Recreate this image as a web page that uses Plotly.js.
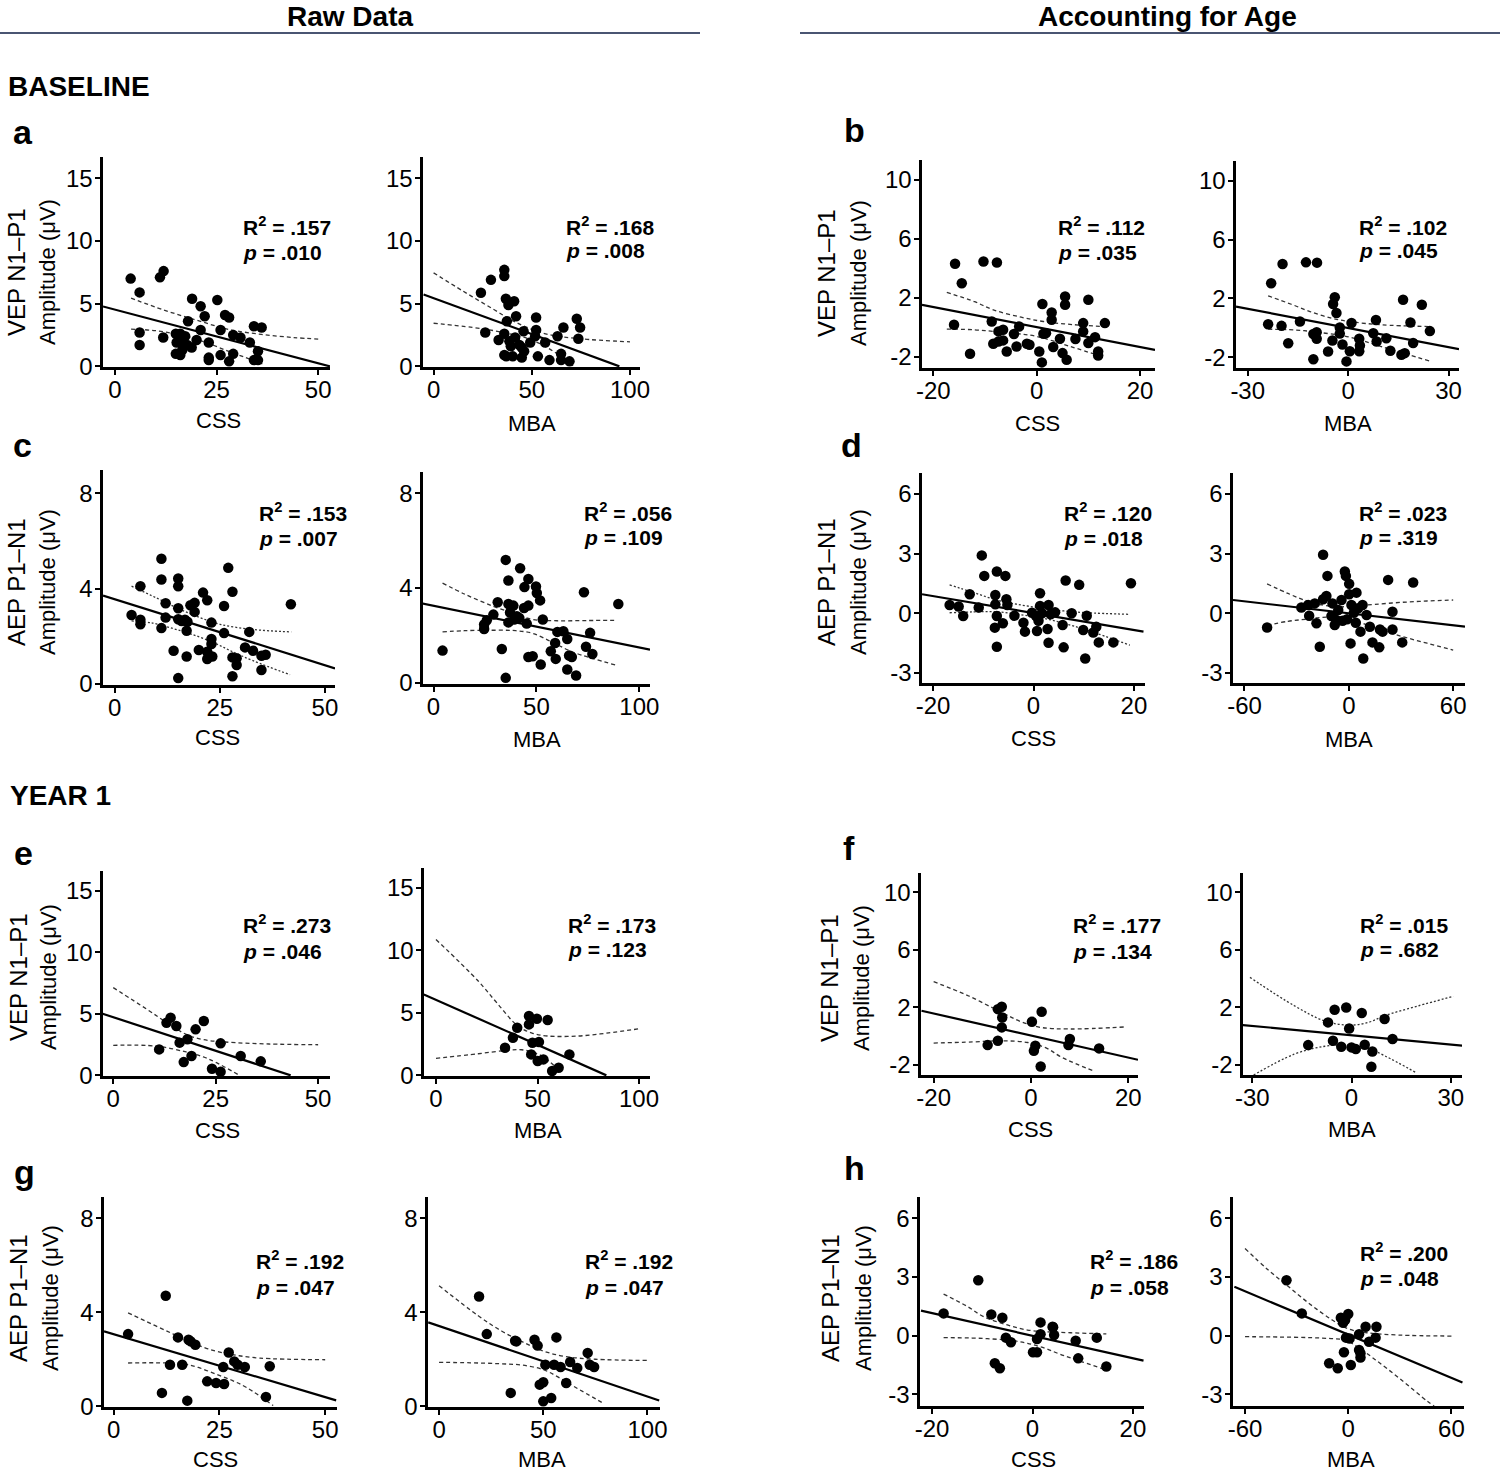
<!DOCTYPE html>
<html><head><meta charset="utf-8">
<script src="https://cdn.plot.ly/plotly-3.0.1.min.js"></script>
<style>body{margin:0;background:#fff}#chart{width:1500px;height:1472px}</style>
</head><body><div id="chart"></div>
<script>
// ---------- tick labels ----------
const cssRawTicks=[0,25,50], mbaRawTicks=[0,50,100], vepRawTicks=[0,5,10,15], aepRawTicks=[0,4,8];
const cssAdjTicks=[-20,0,20], mbaAdjVepTicks=[-30,0,30], mbaAdjAepTicks=[-60,0,60];
const vepAdjTicks=[-2,2,6,10], aepAdjTicks=[-3,0,3,6];

// ---------- statistics ----------
const r2Labels=['.157','.168','.112','.102','.153','.056','.120','.023','.273','.173','.177','.015','.192','.192','.186','.200'];
const pLabels =['.010','.008','.035','.045','.007','.109','.018','.319','.046','.123','.134','.682','.047','.047','.058','.048'];

// ---------- a: baseline VEP raw ----------
const aCssX=[3.9,6.1,6.1,6.1,11.1,12.0,11.9,15.0,16.1,17.3,15.2,16.6,17.8,16.6,15.0,16.1,20.1,18.9,18.0,19.0,21.1,21.1,22.1,23.1,23.1,23.1,25.2,26.0,26.0,27.1,28.1,28.1,29.1,29.1,30.9,33.2,34.2,36.1,35.2,34.2,35.2];
const aCssY=[7.0,5.9,2.7,1.7,7.1,7.6,2.3,2.6,2.6,2.4,1.9,1.9,1.7,1.3,1.0,0.9,2.1,1.5,3.6,5.4,4.8,2.9,4.0,1.9,0.7,0.5,5.3,2.9,0.9,4.1,3.9,0.4,1.0,2.5,2.3,1.9,3.2,3.1,1.2,0.5,0.5];
const aCssFitX=[-2.9,52.9], aCssFitY=[4.78,0.0];
const aCssUpX=[4,12,20,28,36,44,50], aCssUpY=[5.44,4.5,3.7,2.95,2.55,2.3,2.18];
const aCssLoX=[4,10,16,22,28,33,37], aCssLoY=[2.97,2.85,2.5,1.95,1.2,0.6,0.1];

const aMbaX=[24.1,26.3,29.2,33.1,36.0,36.0,36.8,37.3,36.0,36.0,37.0,38.1,38.6,39.3,41.0,42.0,41.5,43.7,44.9,45.8,40.3,46.1,44.9,49.2,52.2,52.2,53.1,56.8,59.0,63.1,64.9,64.9,66.1,69.2,72.9,74.6,73.7,51.7];
const aMbaY=[5.87,2.7,6.9,2.1,7.7,7.2,5.4,3.6,2.6,0.9,0.8,4.9,2.0,1.6,5.2,4.0,2.3,1.7,1.5,2.8,0.8,1.2,0.7,1.9,3.9,2.9,0.8,1.9,0.5,2.4,1.0,0.5,3.1,0.4,3.8,3.1,2.2,2.4];
const aMbaFitX=[-5.1,94.6], aMbaFitY=[5.74,0.0];
const aMbaUpX=[0,15,30,42,57,75,100], aMbaUpY=[7.46,6.0,4.6,3.5,2.6,2.2,1.96];
const aMbaLoX=[0,20,34,50,64,71], aMbaLoY=[3.44,3.1,2.75,2.1,0.9,0.05];

// ---------- b: baseline VEP age-adjusted ----------
const bCssX=[-15.8,-14.5,-10.3,-7.7,-16.0,-12.9,-8.7,-8.4,-7.4,-7.4,-6.5,-6.5,-5.8,-4.4,-3.9,-3.4,-1.9,-1.4,0.5,1.0,1.1,1.3,1.8,2.9,2.9,3.2,4.5,5.0,5.5,5.5,5.8,7.5,9.0,9.0,10.0,10.0,11.3,11.9,11.9,13.2];
const bCssY=[4.32,3.0,4.47,4.41,0.19,-1.78,0.41,-1.1,-0.26,-0.94,-0.15,-0.87,-1.62,-0.44,-1.28,0.07,-1.1,-1.17,-1.62,-2.36,1.6,-0.42,-0.38,1.02,0.53,-1.32,-0.76,-1.73,2.1,1.54,-2.18,-0.78,0.3,-0.26,1.88,-1.05,-0.65,-1.62,-1.89,0.3];
const bCssFitX=[-22.2,22.9], bCssFitY=[1.54,-1.52];
const bCssUpX=[-17.4,-12,-8.4,-3,1.3,7,12.9], bCssUpY=[2.38,1.75,1.2,0.7,0.41,0.2,0.07];
const bCssLoX=[-17.4,-12,-8.4,-4,0,6.5,12.9], bCssLoY=[-0.1,-0.15,-0.26,-0.4,-0.6,-1.28,-2.0];

const bMbaX=[-23.0,-19.6,-12.6,-9.3,-23.9,-19.9,-17.9,-14.4,-10.4,-9.4,-9.4,-10.4,-6.0,-4.0,-4.5,-3.5,-4.7,-2.5,-2.5,-1.7,-0.5,0.5,1.0,3.3,3.5,3.3,7.5,8.3,8.5,11.4,12.6,15.9,16.9,16.4,18.6,19.4,22.0,24.4];
const bMbaY=[3.03,4.34,4.45,4.43,0.24,0.13,-1.05,0.42,-0.42,-0.30,-0.75,-2.14,-1.62,2.08,1.62,1.0,-0.87,0.02,-0.4,-1.14,-2.29,-1.6,0.32,-0.75,-1.2,-1.6,-0.37,0.53,-0.94,-0.71,-1.57,-1.84,-1.73,1.9,0.36,-1.04,1.56,-0.23];
const bMbaFitX=[-33.5,33.1], bMbaFitY=[1.44,-1.46];
const bMbaUpX=[-23.9,-17,-11.4,-5,0.5,10,24.4], bMbaUpY=[2.17,1.6,1.1,0.65,0.42,0.2,0.08];
const bMbaLoX=[-23.9,-16,-9.4,0.5,10.4,24.4], bMbaLoY=[-0.1,-0.15,-0.3,-0.64,-1.32,-2.27];

// ---------- c: baseline AEP raw ----------
const cCssX=[4.0,6.1,6.1,6.1,11.1,11.1,11.1,12.1,12.1,14.0,15.1,15.1,15.1,15.1,15.1,15.9,16.7,17.1,17.1,17.3,18.0,19.0,19.0,20.0,21.0,22.0,22.0,22.0,23.0,23.0,23.0,23.2,26.0,26.0,27.0,28.0,28.0,28.0,29.0,29.0,31.0,32.0,32.9,34.9,35.9,34.9,41.9];
const cCssY=[2.89,4.10,2.69,2.50,5.25,4.38,2.34,3.38,2.78,1.39,4.42,4.10,3.17,2.71,0.24,2.64,2.69,1.15,2.23,2.61,3.30,3.40,3.02,1.42,3.83,3.51,1.35,1.04,2.57,1.88,1.67,1.15,3.27,2.13,4.87,3.87,1.11,0.32,1.07,0.79,1.53,2.18,1.39,1.18,1.22,0.58,3.34];
const cCssFitX=[-2.8,52.4], cCssFitY=[3.71,0.65];
const cCssUpX=[4,10,15.5,20,25,33,42], cCssUpY=[4.1,3.6,3.13,2.8,2.5,2.28,2.18];
const cCssLoX=[4,9,13.9,18,23.4,28,32.9,41.7], cCssLoY=[2.64,2.55,2.32,2.1,1.74,1.35,0.97,0.38];

const cMbaX=[4.4,24.6,24.6,25.9,29.1,31.2,33.2,35.1,35.1,36.4,36.4,36.4,37.2,38.8,39.2,40.5,42.1,41.7,44.2,44.0,45.3,46.1,46.1,46.1,48.2,49.8,50.2,51.8,52.1,53.1,57.0,59.1,59.4,60.2,63.1,65.0,65.0,65.9,67.2,69.3,73.1,74.1,76.1,77.2,89.8];
const cMbaY=[1.36,2.27,2.46,2.64,2.88,3.40,1.43,5.19,0.21,4.32,3.33,2.55,2.97,3.26,2.67,2.81,4.84,2.74,4.04,3.16,2.50,4.38,3.26,1.09,1.12,4.07,3.79,3.48,0.77,2.67,1.33,1.68,1.01,2.15,2.18,1.85,0.56,1.15,1.09,0.31,3.82,1.52,2.11,1.22,3.33];
const cMbaFitX=[-5.2,105.2], cMbaFitY=[3.34,1.40];
const cMbaUpX=[4.4,15,29.1,40,48.5,60,75,89], cMbaUpY=[4.21,3.75,3.23,2.9,2.67,2.62,2.63,2.64];
const cMbaLoX=[4.4,15,29.1,40,48.5,58,68,89], cMbaLoY=[2.15,2.2,2.22,2.2,2.08,1.7,1.29,0.74];

// ---------- d: baseline AEP age-adjusted ----------
const dCssX=[-16.7,-14.9,-14.0,-12.7,-10.9,-10.3,-9.8,-7.6,-7.6,-7.3,-7.3,-7.7,-7.3,-6.1,-5.6,-5.4,-5.2,-3.8,-2.0,-1.7,-0.3,0.5,1.0,0.7,1.3,1.3,1.7,2.8,3.0,3.0,3.4,4.3,5.8,6.0,6.4,7.6,9.1,9.9,10.6,10.3,11.9,12.5,13.0,15.9,19.4];
const dCssY=[0.42,0.34,-0.13,0.96,0.29,2.91,1.88,0.92,0.45,2.10,-0.13,-0.72,-1.68,-0.50,1.88,0.71,0.42,-0.12,-0.47,-0.92,0.03,-0.13,-0.37,-0.89,1.01,0.37,0.0,-0.79,0.42,-1.48,-0.05,0.05,-0.59,-1.71,1.65,0.0,1.43,-0.84,-0.12,-2.27,-0.96,-0.67,-1.46,-1.46,1.51];
const dCssFitX=[-22.2,21.9], dCssFitY=[0.96,-0.92];
const dCssUpX=[-16.7,-12,-7.3,-2.5,2,6,10.6,19.2], dCssUpY=[1.43,1.05,0.67,0.42,0.25,0.12,0.03,-0.05];
const dCssLoX=[-16.7,-12,-7.3,-2.5,2,6,10.6,19.2], dCssLoY=[0.03,0.07,0.08,-0.07,-0.25,-0.5,-0.84,-1.6];

const dMbaX=[-47.0,-27.3,-23.4,-22.8,-19.6,-18.6,-16.7,-14.8,-14.8,-12.9,-12.3,-10.0,-9.4,-8.1,-7.1,-6.1,-4.2,-3.6,-2.3,-1.7,-1.0,0.2,0.2,1.0,1.5,2.9,4.0,4.4,5.4,6.7,7.9,8.3,10.2,12.1,13.6,17.5,17.9,19.4,22.6,25.1,25.1,30.7,37.0];
const dMbaY=[-0.71,0.29,0.42,-0.12,0.50,-0.50,-1.68,2.94,0.71,0.87,1.88,-0.13,0.50,-0.59,-0.34,0.17,0.67,-0.37,2.10,1.88,-0.30,1.48,0.96,-1.51,0.42,0.03,-0.47,1.04,0.25,-0.92,0.42,-2.27,-0.08,-0.67,-1.46,-1.71,-0.81,-0.92,1.68,0.08,-0.81,-1.46,1.55];
const dMbaFitX=[-66.6,66.8], dMbaFitY=[0.67,-0.67];
const dMbaUpX=[-47,-35,-25,-15,-5,5,15,30,45,60], dMbaUpY=[1.48,1.0,0.65,0.42,0.33,0.38,0.45,0.55,0.62,0.67];
const dMbaLoX=[-47,-35,-25,-15,-5,5,15,30,45,60], dMbaLoY=[-0.6,-0.4,-0.3,-0.2,-0.2,-0.4,-0.75,-1.15,-1.5,-1.85];

// ---------- e: year 1 VEP raw ----------
const eCssX=[11.2,13.0,14.0,15.4,16.2,17.2,18.1,19.1,20.1,22.1,24.1,26.2,26.2,31.1,36.0];
const eCssY=[2.11,4.28,4.69,4.01,2.66,1.08,2.93,1.57,3.74,4.42,0.54,2.60,0.30,1.57,1.14];
const eCssFitX=[-2.6,43.3], eCssFitY=[5.01,0.0];
const eCssUpX=[0,8.2,13,17.8,22,27.3,38,50], eCssUpY=[7.13,5.37,4.3,3.33,2.9,2.71,2.55,2.49];
const eCssLoX=[0,10.4,17.8,22,25.2,30.4], eCssLoY=[2.44,2.38,1.9,1.5,1.03,0.08];

const eMbaX=[34.0,37.9,40.0,45.8,45.8,47.5,46.9,49.7,50.7,50.1,52.9,55.0,57.2,60.4,65.7];
const eMbaY=[2.21,3.01,3.81,4.75,4.08,2.61,1.68,4.53,2.67,1.15,1.28,4.43,0.35,0.61,1.68];
const eMbaFitX=[-6,83.9], eMbaFitY=[6.48,0.0];
const eMbaUpX=[0,20.8,30,40,47,55,70,85,100], eMbaUpY=[10.88,7.55,5.8,4.0,3.4,3.15,3.15,3.4,3.73];
const eMbaLoX=[0,20.8,35,42.2,50.7,56,61.5], eMbaLoY=[1.36,1.73,2.0,2.05,1.68,1.1,0.21];

// ---------- f: year 1 VEP age-adjusted ----------
const fCssX=[-8.9,-6.8,-6.8,-6.0,-5.9,-6.0,0.2,2.2,0.9,0.6,2.0,8.0,7.7,14.0];
const fCssY=[-0.62,-0.32,1.88,2.05,1.30,0.61,1.0,1.70,-0.67,-1.02,-2.11,-0.20,-0.62,-0.85];
const fCssFitX=[-22.5,22.0], fCssFitY=[1.77,-1.64];
const fCssUpX=[-20,-12.9,-6,-2,2,8,19.7], fCssUpY=[3.79,2.81,1.65,1.0,0.61,0.5,0.65];
const fCssLoX=[-20,-12,-6,-0.7,3,6.4,13.1], fCssLoY=[-0.48,-0.4,-0.32,-0.44,-0.8,-1.48,-2.45];

const fMbaX=[-13.1,-7.1,-5.1,-1.6,-5.6,-3.1,-0.7,0,1.3,3.1,4.0,6.3,6.0,10.0,12.4];
const fMbaY=[-0.62,0.96,1.84,2.0,-0.32,-0.74,0.54,-0.78,-0.9,1.61,-0.60,-1.06,-2.13,1.19,-0.20];
const fMbaFitX=[-33.5,34.1], fMbaFitY=[0.79,-0.67];
const fMbaUpX=[-30.7,-17.3,-8,-0.7,5,10,20,30.8], fMbaUpY=[4.09,2.12,1.05,0.77,0.95,1.42,2.1,2.77];
const fMbaLoX=[-30.7,-17.3,-8,-0.7,5,10,19.4], fMbaLoY=[-2.85,-1.25,-0.7,-0.62,-0.85,-1.36,-2.52];

// ---------- g: year 1 AEP raw ----------
const gCssX=[3.4,11.4,12.3,13.3,15.2,16.2,17.4,17.7,18.2,19.3,22.1,24.2,26.1,25.9,27.2,28.5,29.3,31.0,36.0,36.9];
const gCssY=[3.07,0.57,4.70,1.77,2.93,1.77,0.24,2.83,2.76,2.62,1.06,0.99,0.95,1.67,2.29,1.91,1.77,1.67,0.40,1.70];
const gCssFitX=[-2.3,52.6], gCssFitY=[3.19,0.25];
const gCssUpX=[3.4,9,14.1,18,22.3,28,34.6,50], gCssUpY=[3.97,3.5,3.07,2.75,2.44,2.2,2.05,1.98];
const gCssLoX=[3.4,10,16.2,20,24.4,28,31.6,37.7], gCssLoY=[1.84,1.85,1.81,1.65,1.35,1.1,0.78,0.03];

const gMbaX=[19.2,22.9,34.4,36.5,37.1,45.8,47.3,48.3,50.0,50.0,51.0,53.8,55.2,56.3,58.3,61.0,62.9,66.3,71.3,72.3,74.4];
const gMbaY=[4.67,3.07,0.57,2.79,2.76,2.83,2.58,0.92,1.02,0.21,1.77,0.35,1.77,2.93,1.67,0.99,1.88,1.63,2.27,1.77,1.67];
const gMbaFitX=[-5.2,105.6], gMbaFitY=[3.57,0.25];
const gMbaUpX=[0,18.8,30,39.6,50,60.4,75,100], gMbaUpY=[5.13,3.85,3.2,2.76,2.35,2.12,2.0,1.95];
const gMbaLoX=[0,15,29.2,40,50,57,64.6,79.2], gMbaLoY=[1.87,1.85,1.81,1.75,1.56,1.25,0.85,0.11];

// ---------- h: year 1 AEP age-adjusted ----------
const hCssX=[-17.7,-10.8,-8.2,-6.0,-7.5,-6.5,-5.3,-4.3,0.1,0.9,0.9,1.6,1.6,4.0,4.3,4.1,8.6,9.1,12.8,14.7];
const hCssY=[1.14,2.84,1.09,0.92,-1.41,-1.67,-0.10,-0.34,-0.85,-0.85,-0.17,0.68,0.07,0.46,0.03,0.43,-0.26,-1.16,-0.10,-1.58];
const hCssFitX=[-22.2,22.1], hCssFitY=[1.28,-1.28];
const hCssUpX=[-17.7,-13,-9.7,-5,-1,3,7.6,14.7], hCssUpY=[2.13,1.5,0.97,0.55,0.29,0.2,0.15,0.09];
const hCssLoX=[-17.7,-12,-7.9,-4,-1,2.5,5.9,10,14.7], hCssLoY=[-0.1,-0.12,-0.17,-0.25,-0.39,-0.65,-0.99,-1.35,-1.75];

const hMbaX=[-35.9,-27.0,-4.3,0,-3.0,-1.8,-11.1,-6.1,-2.5,-1.3,0.8,1.5,6.3,6.3,7.1,10.1,12.1,15.9,16.4,7.1];
const hMbaY=[2.84,1.14,0.92,1.11,0.66,0.80,-1.41,-1.67,-0.85,-0.10,-0.14,-1.50,0.07,-0.73,-1.12,0.46,-0.31,-0.10,0.46,-0.90];
const hMbaFitX=[-66.2,66.4], hMbaFitY=[2.5,-2.4];
const hMbaUpX=[-60,-47,-34.6,-22,-9.3,0,10.9,30,60], hMbaUpY=[4.46,3.4,2.5,1.6,0.8,0.35,0.15,0.03,-0.02];
const hMbaLoX=[-60,-40,-22,-10,-1.8,5,15.9,30,46.2,50], hMbaLoY=[-0.05,-0.07,-0.1,-0.15,-0.22,-0.55,-1.24,-2.2,-3.37,-3.6];

// ---------- layout helpers ----------
const W=1500, H=1472;
const FONT='"Liberation Sans", Arial, Helvetica, sans-serif';
const PX=x=>x/W, PY=y=>1-y/H;
const DASH='4px,3px', DOT='2px,2px';

const panels=[
 {x:aCssX,y:aCssY,fx:aCssFitX,fy:aCssFitY,ux:aCssUpX,uy:aCssUpY,lx:aCssLoX,ly:aCssLoY,px:[103,330],py:[157,367],xr:[-2.9,52.9],yr:[-0.05,16.7],xt:cssRawTicks,yt:vepRawTicks,ann:[241,226,252],xl:['CSS',218,421],yl:['VEP N1–P1',17,48,272],d:DASH},
 {x:aMbaX,y:aMbaY,fx:aMbaFitX,fy:aMbaFitY,ux:aMbaUpX,uy:aMbaUpY,lx:aMbaLoX,ly:aMbaLoY,px:[423,640],py:[157,367],xr:[-5.4,105.1],yr:[-0.05,16.7],xt:mbaRawTicks,yt:vepRawTicks,ann:[564,226,251],xl:['MBA',532,423],d:DASH},
 {x:bCssX,y:bCssY,fx:bCssFitX,fy:bCssFitY,ux:bCssUpX,uy:bCssUpY,lx:bCssLoX,ly:bCssLoY,px:[922,1155],py:[160,368],xr:[-22.2,22.9],yr:[-2.74,11.35],xt:cssAdjTicks,yt:vepAdjTicks,ann:[1056,226,252],xl:['CSS',1037,423],yl:['VEP N1–P1',826,858,273],d:DASH},
 {x:bMbaX,y:bMbaY,fx:bMbaFitX,fy:bMbaFitY,ux:bMbaUpX,uy:bMbaUpY,lx:bMbaLoX,ly:bMbaLoY,px:[1236,1459],py:[161,368],xr:[-33.5,33.1],yr:[-2.74,11.35],xt:mbaAdjVepTicks,yt:vepAdjTicks,ann:[1357,226,251],xl:['MBA',1348,423],d:DASH},
 {x:cCssX,y:cCssY,fx:cCssFitX,fy:cCssFitY,ux:cCssUpX,uy:cCssUpY,lx:cCssLoX,ly:cCssLoY,px:[103,335],py:[470,685],xr:[-2.8,52.4],yr:[-0.05,8.98],xt:cssRawTicks,yt:aepRawTicks,ann:[257,512,538],xl:['CSS',217,737],yl:['AEP P1–N1',17,48,582],d:DOT},
 {x:cMbaX,y:cMbaY,fx:cMbaFitX,fy:cMbaFitY,ux:cMbaUpX,uy:cMbaUpY,lx:cMbaLoX,ly:cMbaLoY,px:[423,650],py:[472,684],xr:[-5.1,105.2],yr:[-0.05,8.9],xt:mbaRawTicks,yt:aepRawTicks,ann:[582,512,537],xl:['MBA',537,739],d:DASH},
 {x:dCssX,y:dCssY,fx:dCssFitX,fy:dCssFitY,ux:dCssUpX,uy:dCssUpY,lx:dCssLoX,ly:dCssLoY,px:[922,1145],py:[473,683],xr:[-22.2,22.2],yr:[-3.5,7.05],xt:cssAdjTicks,yt:aepAdjTicks,ann:[1062,512,538],xl:['CSS',1033,738],yl:['AEP P1–N1',827,859,582],d:DOT},
 {x:dMbaX,y:dMbaY,fx:dMbaFitX,fy:dMbaFitY,ux:dMbaUpX,uy:dMbaUpY,lx:dMbaLoX,ly:dMbaLoY,px:[1233,1465],py:[473,683],xr:[-66.6,66.8],yr:[-3.5,7.05],xt:mbaAdjAepTicks,yt:aepAdjTicks,ann:[1357,512,537],xl:['MBA',1349,739],d:DASH},
 {x:eCssX,y:eCssY,fx:eCssFitX,fy:eCssFitY,ux:eCssUpX,uy:eCssUpY,lx:eCssLoX,ly:eCssLoY,px:[103,330],py:[871,1076],xr:[-2.5,52.9],yr:[-0.05,16.6],xt:cssRawTicks,yt:vepRawTicks,ann:[241,924,951],xl:['CSS',217,1130],yl:['VEP N1–P1',18,48,977],d:DASH},
 {x:eMbaX,y:eMbaY,fx:eMbaFitX,fy:eMbaFitY,ux:eMbaUpX,uy:eMbaUpY,lx:eMbaLoX,ly:eMbaLoY,px:[424,650],py:[868,1076],xr:[-5.9,105.4],yr:[-0.05,16.6],xt:mbaRawTicks,yt:vepRawTicks,ann:[566,924,950],xl:['MBA',538,1130],d:DASH},
 {x:fCssX,y:fCssY,fx:fCssFitX,fy:fCssFitY,ux:fCssUpX,uy:fCssUpY,lx:fCssLoX,ly:fCssLoY,px:[921,1138],py:[873,1075],xr:[-22.6,22.0],yr:[-2.7,11.35],xt:cssAdjTicks,yt:vepAdjTicks,ann:[1071,924,951],xl:['CSS',1030,1129],yl:['VEP N1–P1',829,861,978],d:DASH},
 {x:fMbaX,y:fMbaY,fx:fMbaFitX,fy:fMbaFitY,ux:fMbaUpX,uy:fMbaUpY,lx:fMbaLoX,ly:fMbaLoY,px:[1243,1462],py:[873,1075],xr:[-32.8,33.4],yr:[-2.7,11.35],xt:mbaAdjVepTicks,yt:vepAdjTicks,ann:[1358,924,950],xl:['MBA',1352,1129],d:DOT},
 {x:gCssX,y:gCssY,fx:gCssFitX,fy:gCssFitY,ux:gCssUpX,uy:gCssUpY,lx:gCssLoX,ly:gCssLoY,px:[104,337],py:[1197,1407],xr:[-2.3,52.8],yr:[-0.03,8.9],xt:cssRawTicks,yt:aepRawTicks,ann:[254,1260,1287],xl:['CSS',216,1459],yl:['AEP P1–N1',18,50,1298],d:DASH},
 {x:gMbaX,y:gMbaY,fx:gMbaFitX,fy:gMbaFitY,ux:gMbaUpX,uy:gMbaUpY,lx:gMbaLoX,ly:gMbaLoY,px:[428,660],py:[1197,1407],xr:[-5.3,106],yr:[-0.03,8.9],xt:mbaRawTicks,yt:aepRawTicks,ann:[583,1260,1287],xl:['MBA',542,1459],d:DASH},
 {x:hCssX,y:hCssY,fx:hCssFitX,fy:hCssFitY,ux:hCssUpX,uy:hCssUpY,lx:hCssLoX,ly:hCssLoY,px:[920,1144],py:[1197,1406],xr:[-22.4,22.2],yr:[-3.6,7.1],xt:cssAdjTicks,yt:aepAdjTicks,ann:[1088,1260,1287],xl:['CSS',1033,1459],yl:['AEP P1–N1',830,863,1298],d:DASH},
 {x:hMbaX,y:hMbaY,fx:hMbaFitX,fy:hMbaFitY,ux:hMbaUpX,uy:hMbaUpY,lx:hMbaLoX,ly:hMbaLoY,px:[1233,1464],py:[1197,1406],xr:[-67,67.3],yr:[-3.6,7.1],xt:mbaAdjAepTicks,yt:aepAdjTicks,ann:[1358,1252,1278],xl:['MBA',1351,1459],d:DASH}
];

const traces=[], annotations=[];
const layout={width:W,height:H,margin:{l:0,r:0,t:0,b:0},paper_bgcolor:'#fff',plot_bgcolor:'#fff',showlegend:false,
  font:{family:FONT,color:'#000'},annotations:annotations,
  shapes:[
    {type:'line',xref:'paper',yref:'paper',x0:PX(0),x1:PX(700),y0:PY(33),y1:PY(33),line:{color:'#4a5572',width:2}},
    {type:'line',xref:'paper',yref:'paper',x0:PX(800),x1:PX(1500),y0:PY(33),y1:PY(33),line:{color:'#4a5572',width:2}}
  ]};

function txt(text,x,y,size,opts){
  annotations.push(Object.assign({text:text,xref:'paper',yref:'paper',x:PX(x),y:PY(y),showarrow:false,
    xanchor:'center',yanchor:'middle',font:{family:FONT,size:size,color:'#000'}},opts||{}));
}

panels.forEach((p,i)=>{
  const n=i+1, s=n===1?'':String(n);
  const ax={showline:true,linecolor:'#000',linewidth:2.6,ticks:'outside',ticklen:5,tickwidth:2,tickcolor:'#000',
    showgrid:false,zeroline:false,tickfont:{family:FONT,size:24,color:'#000'},fixedrange:true,autorange:false};
  layout['xaxis'+s]=Object.assign({},ax,{domain:[PX(p.px[0]),PX(p.px[1])],range:p.xr,anchor:'y'+s,
    tickmode:'array',tickvals:p.xt,ticktext:p.xt.map(String),ticklabelstandoff:-5});
  layout['yaxis'+s]=Object.assign({},ax,{domain:[PY(p.py[1]),PY(p.py[0])],range:p.yr,anchor:'x'+s,
    tickmode:'array',tickvals:p.yt,ticktext:p.yt.map(String),ticklabelstandoff:-2});
  const xa='x'+s, ya='y'+s;
  traces.push({type:'scatter',mode:'lines',x:p.ux,y:p.uy,xaxis:xa,yaxis:ya,line:{color:'#333',width:1.3,dash:p.d,shape:'spline'},hoverinfo:'skip'});
  traces.push({type:'scatter',mode:'lines',x:p.lx,y:p.ly,xaxis:xa,yaxis:ya,line:{color:'#333',width:1.3,dash:p.d,shape:'spline'},hoverinfo:'skip'});
  traces.push({type:'scatter',mode:'lines',x:p.fx,y:p.fy,xaxis:xa,yaxis:ya,line:{color:'#000',width:2.2}});
  traces.push({type:'scatter',mode:'markers',x:p.x,y:p.y,xaxis:xa,yaxis:ya,marker:{color:'#000',size:10.5}});
  txt('<b>R<sup>2</sup> = '+r2Labels[i]+'</b>',p.ann[0],p.ann[1],21,{xanchor:'left'});
  txt('<b><i>p</i> = '+pLabels[i]+'</b>',p.ann[0],p.ann[2],21,{xanchor:'left'});
  txt(p.xl[0],p.xl[1],p.xl[2],22);
  if(p.yl){
    txt(p.yl[0],p.yl[1],p.yl[3],24,{textangle:-90});
    txt('Amplitude (μV)',p.yl[2],p.yl[3],22,{textangle:-90});
  }
});

// headers and panel letters
txt('<b>Raw Data</b>',350,16,28);
txt('<b>Accounting for Age</b>',1167,16,28);
txt('<b>BASELINE</b>',6,86,28,{xanchor:'left'});
txt('<b>YEAR 1</b>',8,795,28,{xanchor:'left'});
const letters=[['a',23,132],['b',854,130],['c',22,445],['d',851,445],['e',23,853],['f',849,848],['g',24,1172],['h',855,1168]];
letters.forEach(l=>txt('<b>'+l[0]+'</b>',l[1],l[2],34));

Plotly.newPlot('chart',traces,layout,{displayModeBar:false,staticPlot:true});
</script></body></html>
